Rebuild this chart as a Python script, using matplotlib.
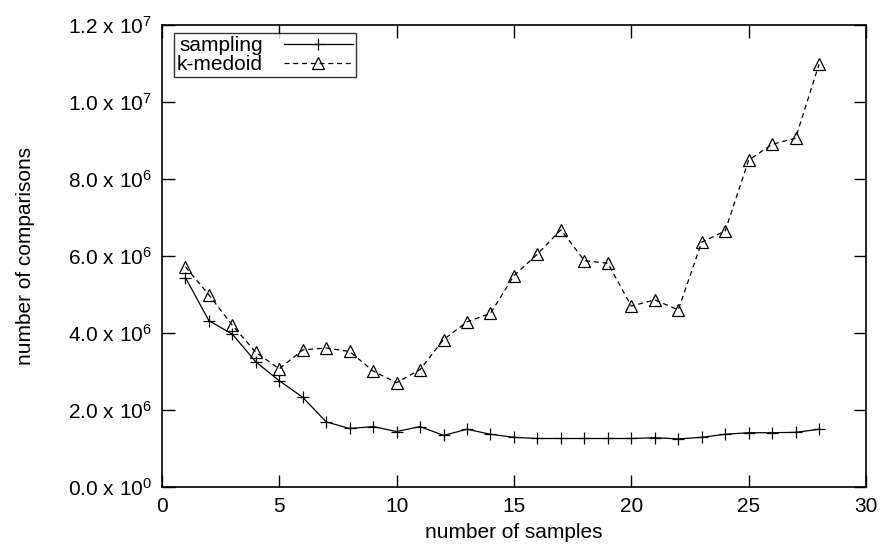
import matplotlib
matplotlib.use("Agg")
import matplotlib.pyplot as plt
from matplotlib.ticker import FixedLocator, FuncFormatter

plt.rcParams['font.family'] = ['Liberation Sans', 'DejaVu Sans']
plt.rcParams['mathtext.fontset'] = 'custom'
plt.rcParams['mathtext.rm'] = 'Liberation Sans'
plt.rcParams['mathtext.it'] = 'Liberation Sans'
plt.rcParams['mathtext.default'] = 'regular'

samples = list(range(1, 29))
sampling = [5.44e6, 4.32e6, 3.97e6, 3.25e6, 2.76e6, 2.33e6, 1.69e6, 1.52e6,
            1.57e6, 1.44e6, 1.57e6, 1.34e6, 1.50e6, 1.37e6, 1.29e6, 1.26e6,
            1.26e6, 1.26e6, 1.26e6, 1.26e6, 1.28e6, 1.25e6, 1.29e6, 1.37e6,
            1.41e6, 1.41e6, 1.42e6, 1.50e6]
kmedoid = [5.72e6, 4.99e6, 4.20e6, 3.50e6, 3.07e6, 3.56e6, 3.61e6, 3.52e6,
           3.01e6, 2.71e6, 3.05e6, 3.83e6, 4.29e6, 4.51e6, 5.49e6, 6.05e6,
           6.68e6, 5.88e6, 5.81e6, 4.70e6, 4.86e6, 4.60e6, 6.36e6, 6.65e6,
           8.49e6, 8.90e6, 9.06e6, 10.98e6]

x_ticks = [0, 5, 10, 15, 20, 25, 30]
y_ticks = [0, 2e6, 4e6, 6e6, 8e6, 1e7, 1.2e7]

FS = 15


def sci_label(v, pos):
    if v == 0:
        return '0.0 x 10$^{0}$'
    exp = 0
    m = v
    while m >= 10:
        m /= 10
        exp += 1
    return '%.1f x 10$^{%d}$' % (m, exp)


fig = plt.figure(figsize=(8.85, 5.55), dpi=100)
ax = fig.add_axes([0.183, 0.1225, 0.7955, 0.8325])

ax.plot(samples, sampling, color='black', lw=0.9, marker='+', ms=9,
        mew=0.9, label='sampling')
ax.plot(samples, kmedoid, color='black', lw=0.9, ls=(0, (4, 3)), marker='^',
        ms=8, mfc='none', mew=0.9, label='k-medoid')

ax.set_xlim(0, 30)
ax.set_ylim(0, 1.2e7)
ax.xaxis.set_major_locator(FixedLocator(x_ticks))
ax.yaxis.set_major_locator(FixedLocator(y_ticks))
ax.yaxis.set_major_formatter(FuncFormatter(sci_label))
ax.tick_params(direction='in', length=9, width=1, top=True, right=True,
               labelsize=FS, pad=7)
for s in ax.spines.values():
    s.set_linewidth(1.2)

ax.set_xlabel('number of samples', fontsize=FS, labelpad=5)
ax.set_ylabel('number of comparisons', fontsize=FS, labelpad=24)

leg = ax.legend(loc='upper left', bbox_to_anchor=(0.017, 0.983),
                markerfirst=False, fontsize=FS,
                frameon=True, fancybox=False, edgecolor='black',
                borderpad=0.15, handlelength=3.3, labelspacing=0.0,
                borderaxespad=0.0, handletextpad=1.0)
leg.get_frame().set_linewidth(1.0)
# right-align the label text so the sample lines line up at the right edge
for column in leg._legend_box.get_children()[1].get_children():
    column.align = 'right'

fig.savefig('out.png', dpi=100)
